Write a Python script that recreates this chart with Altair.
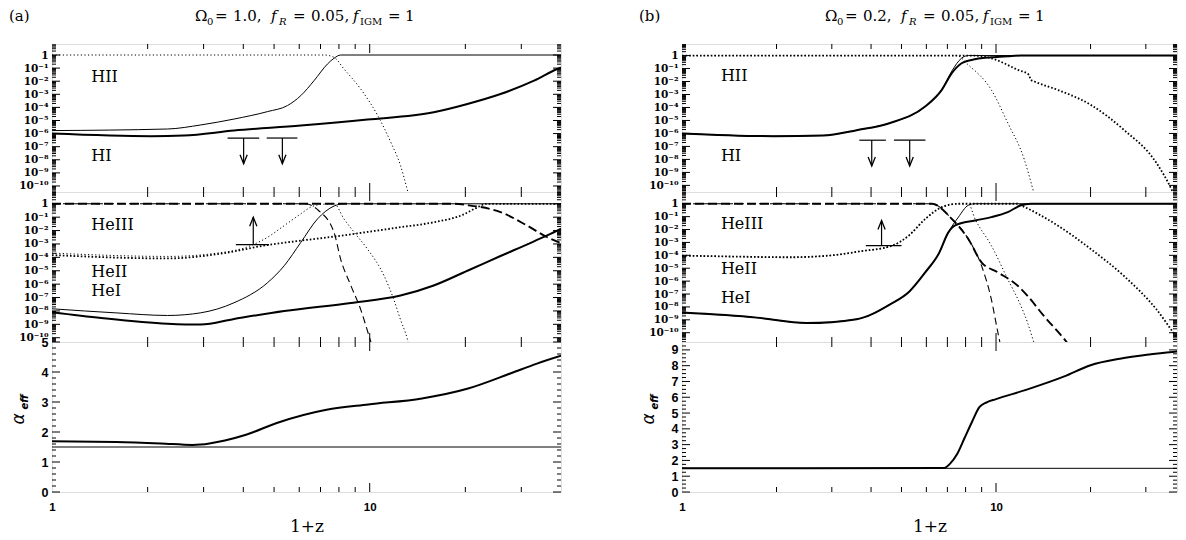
import altair as alt
import pandas as pd

SUP = str.maketrans('-0123456789', '⁻⁰¹²³⁴⁵⁶⁷⁸⁹')

# ======================= DATA =======================
# x = 1+z ; on the log panels the values are log10 of the fraction

# ---------- (a) Omega0 = 1.0 : hydrogen ----------
a_h_thin_x = [1.0, 2.31, 2.94, 3.74, 4.77, 5.51, 6.07, 6.68, 7.36, 7.72, 8.1, 40]
a_h_thin_ly = [-5.77, -5.65, -5.34, -4.89, -4.32, -3.86, -3.10, -1.96, -0.69, -0.25, 0, 0]
a_h_thick_x = [1.0, 2.05, 2.6, 3.74, 6.07, 9.84, 15.9, 20.3, 25.8, 32.9, 38.9, 40]
a_h_thick_ly = [-6.0, -6.2, -6.15, -5.77, -5.39, -4.93, -4.37, -3.74, -2.98, -1.96, -1.07, -0.95]
a_h_dot_x = [1.0, 7.2, 7.72, 8.3, 9.37, 10.6, 11.65, 12.5, 13.1, 13.3]
a_h_dot_ly = [0, 0, -0.18, -1.07, -2.6, -4.63, -6.66, -8.44, -10.2, -10.8]

# ---------- (a) helium ----------
a_he_dotthin_x = [1.0, 2.31, 3.32, 4.22, 4.77, 5.38, 6.07, 6.52, 7.01, 7.72, 8.3, 8.93, 9.84, 11.1, 11.9, 12.5, 13.1, 13.3]
a_he_dotthin_ly = [-3.68, -3.93, -3.68, -3.13, -2.5, -1.63, -0.75, -0.25, -0.05, 0, -1.13, -2.13, -3.38, -5.38, -7.14, -8.65, -10.0, -10.6]
a_he_dotthick_x = [1.0, 2.31, 3.32, 4.77, 6.07, 7.72, 9.84, 12.5, 15.9, 19.5, 21.7, 23.3, 40]
a_he_dotthick_ly = [-3.83, -4.08, -3.76, -3.08, -2.75, -2.45, -2.1, -1.75, -1.38, -0.85, -0.3, 0, 0]
a_he_dashthin_x = [1.0, 6.3, 6.9, 7.72, 8.1, 8.72, 9.37, 9.96, 10.2]
a_he_dashthin_ly = [0, 0, -0.5, -2.13, -4.13, -6.1, -7.9, -9.9, -10.7]
a_he_dashthick_x = [1.0, 18.5, 20.3, 25.8, 31.3, 36.2, 40]
a_he_dashthick_ly = [0, 0, -0.1, -0.62, -1.63, -2.5, -2.95]
a_he_thin_x = [1.0, 1.6, 2.31, 2.94, 3.74, 4.77, 5.38, 6.07, 6.85, 7.72, 8.3, 40]
a_he_thin_ly = [-7.84, -8.15, -8.34, -8.14, -7.39, -5.89, -4.63, -2.88, -1.13, -0.17, 0, 0]
a_he_thick_x = [1.0, 1.43, 2.31, 2.94, 3.74, 5.38, 8.72, 12.5, 15.9, 20.3, 25.8, 32.9, 38.9, 40]
a_he_thick_ly = [-8.09, -8.52, -8.95, -9.02, -8.6, -8.0, -7.4, -6.85, -6.1, -5.0, -3.9, -2.8, -2.0, -1.85]

# ---------- (a) alpha_eff ----------
a_alpha_x = [1.0, 1.59, 2.2, 2.77, 2.93, 3.5, 4.08, 5.1, 7.31, 9.9, 14.6, 20.4, 27.7, 33.6, 40]
a_alpha_y = [1.69, 1.67, 1.62, 1.57, 1.58, 1.72, 1.91, 2.3, 2.74, 2.92, 3.12, 3.45, 3.95, 4.28, 4.54]

# ---------- (b) Omega0 = 0.2 : hydrogen ----------
b_h_thick_x = [1.0, 1.95, 2.81, 3.6, 4.6, 5.96, 6.72, 7.23, 7.77, 8.36, 9.66, 10.9, 12.0, 40]
b_h_thick_ly = [-6.0, -6.21, -6.16, -5.75, -5.19, -3.91, -2.64, -1.36, -0.59, -0.34, -0.13, -0.05, 0, 0]
b_h_thin_x = [1.0, 1.95, 2.81, 3.6, 4.6, 5.96, 6.72, 7.23, 7.77, 8.16, 40]
b_h_thin_ly = [-6.0, -6.21, -6.16, -5.75, -5.19, -3.91, -2.64, -1.2, -0.2, 0, 0]
b_h_dotthin_x = [1.0, 7.5, 8.16, 9.66, 10.9, 12.3, 13.1, 13.3]
b_h_dotthin_ly = [0, 0, -0.72, -2.64, -5.19, -8.0, -10.3, -10.9]
b_h_dotthick_x = [1.0, 8.4, 9.66, 11.73, 12.74, 12.9, 13.25, 15.7, 20.0, 25.5, 32.4, 36.2, 37]
b_h_dotthick_ly = [0, 0, -0.21, -1.1, -1.49, -1.87, -2.0, -2.64, -3.79, -5.71, -8.26, -10.3, -10.8]

# ---------- (b) helium ----------
b_he_dotthin_x = [1.0, 1.5, 2.2, 3.0, 3.67, 4.68, 5.28, 5.96, 6.72, 7.59, 8.16, 8.57, 9.66, 10.9, 12.0, 12.6, 13.1, 13.3]
b_he_dotthin_ly = [-4.02, -4.1, -4.15, -4.0, -3.7, -3.24, -2.46, -1.17, -0.26, 0, 0, -1.17, -3.24, -5.85, -7.92, -9.22, -10.5, -11]
b_he_dotthick_x = [1.0, 1.5, 2.2, 3.0, 3.67, 4.68, 5.28, 5.96, 6.72, 7.59, 11.7, 12.0, 15.7, 20.0, 25.5, 32.4, 37.5, 40]
b_he_dotthick_ly = [-4.02, -4.1, -4.15, -4.0, -3.7, -3.24, -2.46, -1.17, -0.26, 0, 0, -0.12, -1.68, -3.5, -5.58, -8.18, -10.26, -11]
b_he_dashthin_x = [1.0, 6.25, 7.23, 8.16, 8.99, 9.66, 10.14, 10.3]
b_he_dashthin_ly = [0, 0, -1.17, -2.73, -4.8, -7.4, -10.0, -10.8]
b_he_dashthick_x = [1.0, 6.25, 7.23, 8.16, 8.99, 10.14, 11.73, 12.6, 14.2, 16.5, 17.0]
b_he_dashthick_ly = [0, 0, -1.17, -2.73, -4.54, -5.32, -6.36, -7.14, -8.7, -10.5, -10.9]
b_he_thin_x = [1.0, 1.73, 2.49, 3.6, 4.6, 5.3, 5.96, 6.56, 7.06, 7.59, 8.16, 8.57, 40]
b_he_thin_ly = [-8.44, -8.83, -9.25, -8.95, -7.8, -6.8, -5.3, -3.9, -2.2, -1.04, -0.12, 0, 0]
b_he_thick_x = [1.0, 1.73, 2.49, 3.6, 4.6, 5.3, 5.96, 6.56, 7.06, 7.41, 8.57, 9.66, 10.9, 12.0, 12.9, 40]
b_he_thick_ly = [-8.44, -8.83, -9.25, -8.95, -7.8, -6.8, -5.3, -3.9, -2.2, -1.68, -1.3, -1.04, -0.65, -0.12, 0, 0]

# ---------- (b) alpha_eff ----------
b_alpha_x = [1.0, 6.84, 7.13, 7.52, 7.94, 8.39, 8.85, 9.34, 10.0, 12.6, 16.5, 20.0, 24.8, 30.8, 38.2, 40]
b_alpha_y = [1.5, 1.52, 1.78, 2.4, 3.42, 4.45, 5.37, 5.68, 5.88, 6.5, 7.32, 8.03, 8.44, 8.71, 8.91, 8.93]

alpha_ref = 1.5

# ---------- observational limits (bar from lo to hi at level, arrow to tip) ----------
a_hi_lim = dict(x=[4.01, 5.31], lo=[3.57, 4.74], hi=[4.49, 5.92], ly=[-6.34, -6.34], tip=[-8.3, -8.3])
a_he_lim = dict(x=[4.30], lo=[3.79], hi=[4.82], ly=[-3.05], tip=[-1.0])
b_hi_lim = dict(x=[4.02, 5.31], lo=[3.67, 4.73], hi=[4.46, 5.96], ly=[-6.52, -6.52], tip=[-8.5, -8.5])
b_he_lim = dict(x=[4.32], lo=[3.85], hi=[5.0], ly=[-3.24], tip=[-1.3])

# ---------- species labels ----------
h_label_text = ['HII', 'HI']
he_label_text = ['HeIII', 'HeII', 'HeI']
label_x = 1.33
a_h_label_ly = [-1.70, -7.73]
a_he_label_ly = [-1.62, -5.08, -6.51]
b_h_label_ly = [-1.56, -7.75]
b_he_label_ly = [-1.56, -5.07, -7.27]

# ---------- tick positions ----------
x_major_ticks = [10]
x_minor_ticks = [2, 3, 4, 5, 6, 7, 8, 9, 20, 30]
log_label_exps = list(range(-10, 1))

# ======================= DRAWING =======================
STY = {
    'thin': dict(strokeWidth=1.0),
    'thick': dict(strokeWidth=2.0),
    'dotthin': dict(strokeWidth=1.0, strokeDash=[1.2, 2.4]),
    'dotthick': dict(strokeWidth=1.8, strokeDash=[1.6, 2.0]),
    'dashthin': dict(strokeWidth=1.1, strokeDash=[7, 4]),
    'dashthick': dict(strokeWidth=1.9, strokeDash=[9, 4]),
}
SERIF = 'DejaVu Serif'


def p10(v):
    return [10.0 ** t for t in v]


def log_label_expr():
    conds = [f"round(log(datum.value)/LN10) == {e} ? '10{str(e).translate(SUP)}'"
             for e in range(-10, 0)]
    return ' : '.join(conds) + " : '1'"


def log_minor(lo, hi):
    out = []
    for d in range(-12, 2):
        for k in range(2, 10):
            v = k * 10.0 ** d
            if lo < v < hi:
                out.append(v)
    return out


def lin_minor(lo, hi, step):
    out = []
    n = int(round(hi / step)) + 1
    for i in range(n):
        v = round(i * step, 6)
        if lo < v < hi and abs(v - round(v)) > 1e-6:
            out.append(v)
    return out


def text_at(t, x, y, **kw):
    props = dict(align='left', baseline='alphabetic', color='black', font=SERIF, fontSize=15)
    props.update(kw)
    return alt.Chart(pd.DataFrame({'t': [t]})).mark_text(**props).encode(
        text='t:N', x=alt.value(x), y=alt.value(y))


def subplot(w, h, xdom, ydom, log_y, curves, yaxis, xaxis=None, ymaj=(), ymin=(),
            labels=None, limit=None, hline=None, extra=()):
    xs = alt.Scale(type='log', domain=xdom, nice=False)
    if log_y:
        ys = alt.Scale(type='log', domain=ydom, nice=False)
    else:
        ys = alt.Scale(domain=ydom, nice=False, zero=False)
    xe = alt.X('x:Q', scale=xs, axis=xaxis, title=None)
    ye = alt.Y('y:Q', scale=ys, axis=yaxis)
    L = []
    # inward ticks on the frame
    for vals, ln in ((x_major_ticks, 9), (x_minor_ticks, 5)):
        d = pd.DataFrame({'x': vals})
        L.append(alt.Chart(d).mark_rule(color='black', strokeWidth=1).encode(
            x=xe, y=alt.value(0), y2=alt.value(ln)))
        L.append(alt.Chart(d).mark_rule(color='black', strokeWidth=1).encode(
            x=xe, y=alt.value(h), y2=alt.value(h - ln)))
    for vals, ln in ((list(ymaj), 8), (list(ymin), 4)):
        if not vals:
            continue
        d = pd.DataFrame({'y': vals})
        L.append(alt.Chart(d).mark_rule(color='black', strokeWidth=1).encode(
            y=ye, x=alt.value(0), x2=alt.value(ln)))
        L.append(alt.Chart(d).mark_rule(color='black', strokeWidth=1).encode(
            y=ye, x=alt.value(w), x2=alt.value(w - ln)))
    if hline is not None:
        L.append(alt.Chart(pd.DataFrame({'y': [hline]})).mark_rule(
            color='black', strokeWidth=1).encode(y=ye))
    for xv, yv, style in curves:
        d = pd.DataFrame({'x': xv, 'y': yv})
        L.append(alt.Chart(d).mark_line(color='black', clip=True, interpolate='monotone',
                                        **STY[style]).encode(x=xe, y=ye))
    if labels is not None:
        txt, ly = labels
        d = pd.DataFrame({'t': txt, 'x': [label_x] * len(txt), 'y': p10(ly)})
        L.append(alt.Chart(d).mark_text(align='left', baseline='middle', font=SERIF,
                                        fontSize=16, color='black').encode(
            x=xe, y=ye, text='t:N'))
    if limit is not None:
        d = pd.DataFrame({'x': limit['x'], 'lo': limit['lo'], 'hi': limit['hi'],
                          'y': p10(limit['ly']), 'tip': p10(limit['tip'])})
        L.append(alt.Chart(d).mark_rule(color='black', strokeWidth=1.2).encode(
            x=alt.X('lo:Q', scale=xs, axis=xaxis, title=None), x2='hi:Q', y=ye))
        L.append(alt.Chart(d).mark_rule(color='black', strokeWidth=1.2).encode(
            x=xe, y=ye, y2='tip:Q'))
        down = limit['tip'][0] < limit['ly'][0]
        shape = 'M -0.4 -1 L 0 0 L 0.4 -1' if down else 'M -0.4 1 L 0 0 L 0.4 1'
        L.append(alt.Chart(d).mark_point(shape=shape, size=324, filled=False, color='black',
                                         strokeWidth=1.3, opacity=1).encode(
            x=xe, y=alt.Y('tip:Q', scale=ys, axis=yaxis)))
    L.extend(extra)
    return alt.layer(*L).properties(width=w, height=h)


def log_axis():
    return alt.Axis(values=p10(log_label_exps), labelExpr=log_label_expr(), ticks=False,
                    domain=False, grid=False, labelFont=SERIF, labelFontWeight='bold',
                    labelFontSize=10.5, labelPadding=4, labelColor='black', title=None)


def lin_axis(n):
    return alt.Axis(values=list(range(0, n + 1)), format='d', ticks=False, domain=False,
                    grid=False, labelFont='Liberation Sans', labelFontWeight='bold',
                    labelFontSize=12.5, labelPadding=4, labelColor='black', title=None)


def bottom_xaxis():
    return alt.Axis(values=[1, 10], format='d', ticks=False, domain=False, grid=False,
                    labelFont='Liberation Sans', labelFontWeight='bold', labelFontSize=11.5,
                    labelPadding=9, labelFlush=False, labelColor='black',
                    title='1+z', titleFont=SERIF, titleFontSize=17, titleFontWeight='normal',
                    titlePadding=6, titleColor='black')


def title_pieces(tag, om):
    y0, ys_ = -23, -19
    return [
        text_at(tag, -43, y0, fontSize=15),
        text_at('Ω', 143, y0),
        text_at('0', 155, ys_, fontSize=10),
        text_at('=', 163, y0),
        text_at(om + ',', 181, y0),
        text_at('f', 219, y0, fontStyle='italic'),
        text_at('R', 227, ys_, fontSize=10, fontStyle='italic'),
        text_at('=', 241, y0),
        text_at('0.05,', 259, y0),
        text_at('f', 301, y0, fontStyle='italic'),
        text_at('IGM', 308, ys_, fontSize=10),
        text_at('=', 336, y0),
        text_at('1', 353, y0),
    ]


def alpha_label():
    return [
        text_at('α', -33, 77, align='center', baseline='middle', angle=270,
                font='DejaVu Sans', fontSize=17, fontStyle='italic'),
        text_at('eff', -27.5, 60, align='center', baseline='middle', angle=270,
                font='DejaVu Sans', fontSize=10, fontStyle='italic', fontWeight='bold'),
    ]


H_TOP, H_MID, H_BOT = 148, 150, 150
WA, WB = 509, 495
XA = [1, 40]
XB = [1, 37.7]

ya_top = [10 ** -10.46, 10 ** 0.84]
ya_mid = [10 ** -10.32, 10 ** 0.88]
yb_top = [10 ** -10.51, 10 ** 0.89]
yb_mid = [10 ** -10.72, 10 ** 0.91]

maj_log = p10(log_label_exps)

top_a = subplot(WA, H_TOP, XA, ya_top, True, [
    (a_h_dot_x, p10(a_h_dot_ly), 'dotthin'),
    (a_h_thin_x, p10(a_h_thin_ly), 'thin'),
    (a_h_thick_x, p10(a_h_thick_ly), 'thick'),
], log_axis(), ymaj=maj_log, ymin=log_minor(*ya_top),
    labels=(h_label_text, a_h_label_ly), limit=a_hi_lim, extra=title_pieces('(a)', '1.0'))

mid_a = subplot(WA, H_MID, XA, ya_mid, True, [
    (a_he_dotthin_x, p10(a_he_dotthin_ly), 'dotthin'),
    (a_he_dotthick_x, p10(a_he_dotthick_ly), 'dotthick'),
    (a_he_dashthin_x, p10(a_he_dashthin_ly), 'dashthin'),
    (a_he_dashthick_x, p10(a_he_dashthick_ly), 'dashthick'),
    (a_he_thin_x, p10(a_he_thin_ly), 'thin'),
    (a_he_thick_x, p10(a_he_thick_ly), 'thick'),
], log_axis(), ymaj=maj_log, ymin=log_minor(*ya_mid),
    labels=(he_label_text, a_he_label_ly), limit=a_he_lim)

bot_a = subplot(WA, H_BOT, XA, [0, 5], False, [
    (a_alpha_x, a_alpha_y, 'thick'),
], lin_axis(5), xaxis=bottom_xaxis(), ymaj=list(range(0, 6)), ymin=lin_minor(0, 5, 0.2),
    hline=alpha_ref, extra=alpha_label())

top_b = subplot(WB, H_TOP, XB, yb_top, True, [
    (b_h_dotthin_x, p10(b_h_dotthin_ly), 'dotthin'),
    (b_h_dotthick_x, p10(b_h_dotthick_ly), 'dotthick'),
    (b_h_thin_x, p10(b_h_thin_ly), 'thin'),
    (b_h_thick_x, p10(b_h_thick_ly), 'thick'),
], log_axis(), ymaj=maj_log, ymin=log_minor(*yb_top),
    labels=(h_label_text, b_h_label_ly), limit=b_hi_lim, extra=title_pieces('(b)', '0.2'))

mid_b = subplot(WB, H_MID, XB, yb_mid, True, [
    (b_he_dotthin_x, p10(b_he_dotthin_ly), 'dotthin'),
    (b_he_dotthick_x, p10(b_he_dotthick_ly), 'dotthick'),
    (b_he_dashthin_x, p10(b_he_dashthin_ly), 'dashthin'),
    (b_he_dashthick_x, p10(b_he_dashthick_ly), 'dashthick'),
    (b_he_thin_x, p10(b_he_thin_ly), 'thin'),
    (b_he_thick_x, p10(b_he_thick_ly), 'thick'),
], log_axis(), ymaj=maj_log, ymin=log_minor(*yb_mid),
    labels=(he_label_text, b_he_label_ly), limit=b_he_lim)

bot_b = subplot(WB, H_BOT, XB, [0, 9.5], False, [
    (b_alpha_x, b_alpha_y, 'thick'),
], lin_axis(9), xaxis=bottom_xaxis(), ymaj=list(range(0, 10)), ymin=lin_minor(0, 9.5, 0.25),
    hline=alpha_ref, extra=alpha_label())

chart = alt.concat(top_a, top_b, mid_a, mid_b, bot_a, bot_b, columns=2,
                   spacing={'row': 0, 'column': 121}, bounds='flush').properties(
    padding={'left': 0, 'top': 0, 'right': 0, 'bottom': 0}
).configure_view(stroke='black', strokeWidth=1.3).configure(background='white')

chart.save("out.html", embed_options={"renderer": "svg", "actions": False})
